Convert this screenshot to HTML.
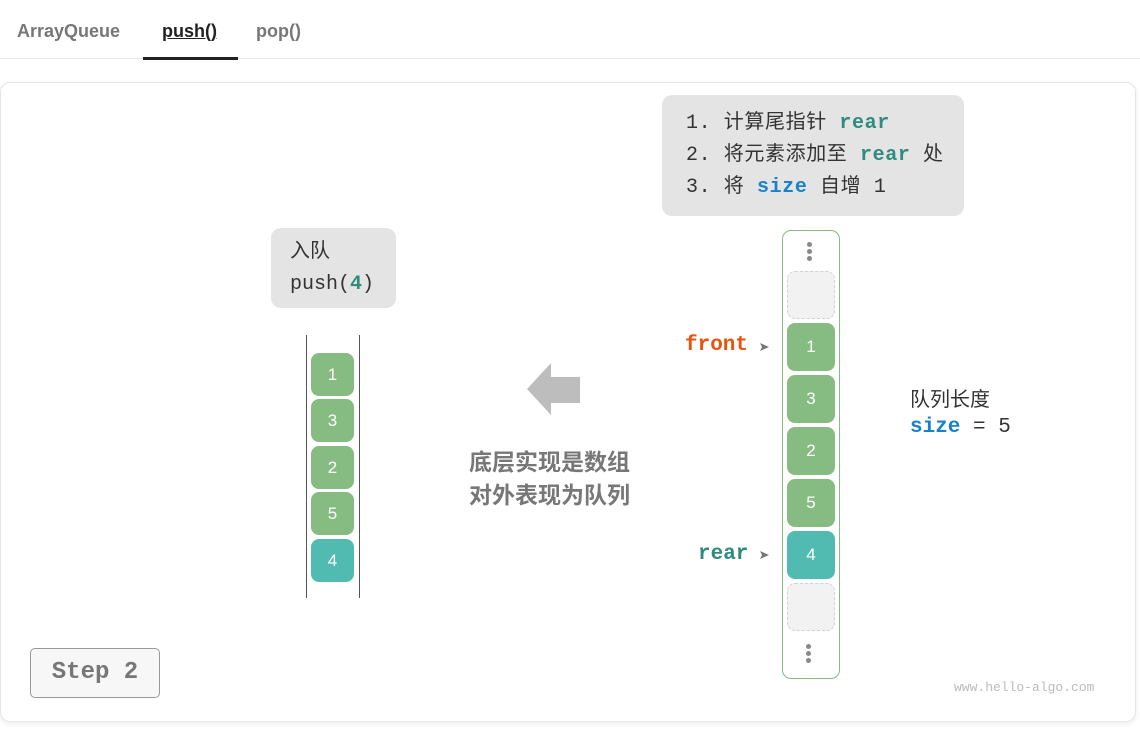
<!DOCTYPE html>
<html><head><meta charset="utf-8"><style>
body{margin:0;width:1140px;height:734px;background:#fff;position:relative;overflow:hidden;font-family:"Liberation Sans","Noto Sans CJK SC",sans-serif;}
.a{position:absolute;}
.mono{font-family:"Liberation Mono","Noto Sans CJK SC",monospace;}
.tab{position:absolute;top:21px;font-size:18px;color:#777;font-weight:bold;}
.card{position:absolute;left:0;top:82px;width:1134px;height:638px;border:1px solid #e6e6e6;border-radius:10px;box-shadow:0 2px 6px rgba(0,0,0,.08);background:#fff;}
.c{position:absolute;color:#fff;font-size:17px;text-align:center;border-radius:8px;}
.g{background:#86bc82;}.t{background:#52bbb1;}
.e{position:absolute;left:787px;width:46px;height:46px;border:1.5px dashed #d2d2d2;background:#f2f2f2;border-radius:8px;}
.dot{position:absolute;width:5px;height:5px;border-radius:50%;background:#888;}
</style></head><body>
<div class="tab" style="left:17px">ArrayQueue</div>
<div class="tab" style="left:162px;color:#222;text-decoration:underline">push()</div>
<div class="tab" style="left:256px">pop()</div>
<div class="a" style="left:0;top:58px;width:1140px;height:1px;background:#e8e8e8"></div>
<div class="a" style="left:143px;top:57px;width:95px;height:3px;background:#222"></div>
<div class="card"></div>

<div class="a" style="left:662px;top:95px;width:302px;height:121px;background:#e4e4e4;border-radius:10px"></div>
<div class="a mono" style="left:686px;top:108px;font-size:20px;line-height:32px;color:#333;white-space:pre;letter-spacing:0.6px">1. 计算尾指针 <b style="color:#2e8b7e">rear</b>
2. 将元素添加至 <b style="color:#2e8b7e">rear</b> 处
3. 将 <b style="color:#1a82c8">size</b> 自增 1</div>

<div class="a" style="left:271px;top:228px;width:125px;height:80px;background:#e4e4e4;border-radius:10px"></div>
<div class="a" style="left:290px;top:235px;font-size:20px;line-height:32px;color:#333">入队<br><span class="mono">push(<b style="color:#2e8b7e">4</b>)</span></div>

<div class="a" style="left:306px;top:335px;width:1px;height:263px;background:#555"></div>
<div class="a" style="left:359px;top:335px;width:1px;height:263px;background:#555"></div>
<div class="c g" style="left:311px;top:353px;width:43px;height:43px;line-height:43px">1</div>
<div class="c g" style="left:311px;top:399px;width:43px;height:43px;line-height:43px">3</div>
<div class="c g" style="left:311px;top:446px;width:43px;height:43px;line-height:43px">2</div>
<div class="c g" style="left:311px;top:492px;width:43px;height:43px;line-height:43px">5</div>
<div class="c t" style="left:311px;top:539px;width:43px;height:43px;line-height:43px">4</div>

<svg class="a" style="left:0;top:0" width="1140" height="734"><polygon points="527,389 551,363 551,377 580,377 580,403 551,403 551,415" fill="#bdbdbd"/>
<polygon points="760,343 769,347 760,351 762,347" fill="#777"/>
<polygon points="760,551 769,555 760,559 762,555" fill="#777"/></svg>
<div class="a" style="left:469px;top:446px;font-size:23px;line-height:33px;font-weight:bold;color:#777">底层实现是数组<br>对外表现为队列</div>

<div class="a" style="left:782px;top:230px;width:56px;height:447px;border:1.5px solid #86bc82;border-radius:9px"></div>
<div class="dot" style="left:807px;top:242px"></div><div class="dot" style="left:807px;top:249px"></div><div class="dot" style="left:807px;top:256px"></div>
<div class="e" style="top:271px"></div>
<div class="c g" style="left:787px;top:323px;width:48px;height:48px;line-height:48px">1</div>
<div class="c g" style="left:787px;top:375px;width:48px;height:48px;line-height:48px">3</div>
<div class="c g" style="left:787px;top:427px;width:48px;height:48px;line-height:48px">2</div>
<div class="c g" style="left:787px;top:479px;width:48px;height:48px;line-height:48px">5</div>
<div class="c t" style="left:787px;top:531px;width:48px;height:48px;line-height:48px">4</div>
<div class="e" style="top:583px"></div>
<div class="dot" style="left:806px;top:644px"></div><div class="dot" style="left:806px;top:651px"></div><div class="dot" style="left:806px;top:658px"></div>

<div class="a mono" style="left:685px;top:334px;font-size:21px;font-weight:bold;color:#e8530e">front</div>
<div class="a mono" style="left:698px;top:543px;font-size:21px;font-weight:bold;color:#2e8b7e">rear</div>
<div class="a" style="left:910px;top:383px;font-size:20px;color:#333">队列长度</div>
<div class="a mono" style="left:910px;top:416px;font-size:21px;color:#333"><b style="color:#1a82c8">size</b> = 5</div>

<div class="a mono" style="left:30px;top:648px;width:128px;height:48px;border:1px solid #999;border-radius:5px;background:#f7f7f7;text-align:center;line-height:48px;font-size:24px;font-weight:bold;color:#777">Step 2</div>
<div class="a mono" style="left:954px;top:680px;font-size:13px;color:#bbb">www.hello-algo.com</div>
</body></html>
